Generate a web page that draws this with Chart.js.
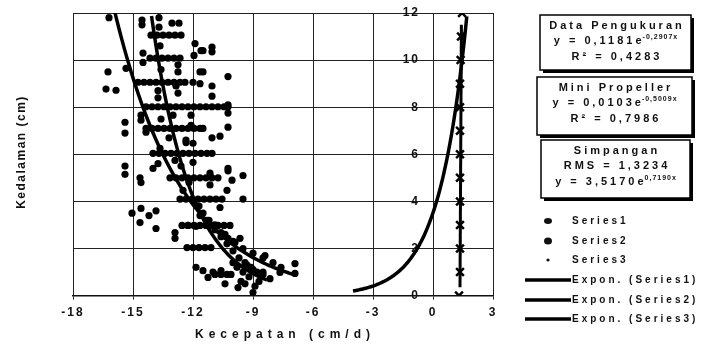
<!DOCTYPE html>
<html><head><meta charset="utf-8">
<script src="https://cdn.jsdelivr.net/npm/chart.js@4/dist/chart.umd.min.js"></script>
<style>html,body{margin:0;padding:0;background:#fff;overflow:hidden}</style>
</head><body>
<canvas id="c" width="711" height="347" style="width:711px;height:347px;display:block"></canvas>
<script>
// ---------- data ----------
const xTickStep = 3, xMin = -18, xMax = 3;
const yTickStep = 2, yMin = 0, yMax = 12;
const yAxisAt = -0.65; // tick labels sit just left of the x = 0 line
const xTitle = 'Kecepatan (cm/d)';
const yTitle = 'Kedalaman (cm)';
const seriesNames = ['Series1', 'Series2', 'Series3'];
const trendNames = ['Expon. (Series1)', 'Expon. (Series2)', 'Expon. (Series3)'];

// Series1 : scattered measured points [velocity, depth]
const series1 = [
 [-16.2,11.8],[-14.55,11.7],[-14.55,11.5],[-13.05,11.57],[-12.7,11.57],[-11.9,10.7],[-11.6,10.4],
 [-14.5,10.3],[-14.5,9.9],[-12.75,9.8],[-12.75,9.5],[-16.25,9.5],[-15.35,9.65],[-16.35,8.77],
 [-15.85,8.72],[-13.75,8.7],[-13.75,8.4],[-12.85,8.9],[-12.75,8.6],[-12.0,9.06],[-11.65,9.0],
 [-11.65,9.5],[-11.5,10.4],[-11.05,10.55],[-11.05,10.35],[-11.95,10.2],[-11.5,9.5],[-10.25,9.3],
 [-11.05,8.9],[-11.05,8.47],[-10.25,8.1],[-14.6,7.66],[-14.6,7.45],[-15.4,7.36],[-15.4,6.9],
 [-14.35,6.94],[-13.6,7.5],[-13.0,7.66],[-12.1,7.66],[-12.1,7.23],[-12.35,6.6],[-13.65,6.25],
 [-15.4,5.5],[-15.4,5.15],[-14.65,5.0],[-14.6,4.8],[-14.0,5.4],[-13.75,5.6],[-12.9,5.74],
 [-12.0,5.66],[-12.5,4.47],[-10.25,7.75],[-10.25,7.15],[-11.05,6.7],[-10.65,6.77],[-12.35,6.5],
 [-12.0,6.47],[-10.25,5.4],[-10.25,5.3],[-11.15,5.2],[-9.5,5.1],[-10.05,4.9],[-11.15,4.7],
 [-10.3,4.47],[-9.5,4.1],[-10.65,3.74],[-14.6,3.7],[-15.05,3.5],[-14.2,3.4],[-13.85,3.6],
 [-14.65,3.1],[-13.85,2.85],[-12.9,2.68],[-12.9,2.43],[-12.25,2.98],[-11.85,2.94],[-11.65,3.4],
 [-11.3,3.2],[-9.65,2.43],[-10.6,2.68],[-10.25,2.43],[-9.9,2.26],[-8.4,1.7],[-6.9,1.36],
 [-6.9,0.94],[-7.65,0.98],[-8.15,0.72],[-11.85,1.2],[-11.5,1.06],[-11.25,0.77],[-10.4,0.5],
 [-9.0,0.13],[-9.75,0.34],[-11.0,1.0],[-10.6,1.06],[-13.7,11.8],[-13.7,11.4],[-13.65,10.6],[-13.6,9.6]
];

// Series2 : mini propeller points (dense rows at fixed depths)
const series2 = [
 [-14.1,11.06],[-13.8,11.06],[-13.5,11.06],[-13.2,11.06],[-12.9,11.06],[-12.6,11.06],
 [-14.15,10.08],[-13.85,10.08],[-13.55,10.08],[-13.25,10.08],[-12.95,10.08],[-12.65,10.08],
 [-14.75,9.06],[-14.45,9.06],[-14.15,9.06],[-13.85,9.06],[-13.55,9.06],[-13.25,9.06],[-12.95,9.06],[-12.65,9.06],[-12.4,9.06],
 [-14.35,8.02],[-14.05,8.02],[-13.75,8.02],[-13.45,8.02],[-13.15,8.02],[-12.85,8.02],[-12.55,8.02],[-12.25,8.02],
 [-11.95,8.02],[-11.65,8.02],[-11.35,8.02],[-11.05,8.02],[-10.75,8.02],[-10.45,8.02],[-10.25,8.02],
 [-14.35,7.1],[-14.05,7.1],[-13.75,7.1],[-13.45,7.1],[-13.15,7.1],[-12.85,7.1],[-12.55,7.1],[-12.25,7.1],[-11.95,7.1],[-11.65,7.1],[-11.5,7.1],
 [-14.0,6.04],[-13.7,6.04],[-13.4,6.04],[-13.1,6.04],[-12.8,6.04],[-12.5,6.04],[-12.2,6.04],[-11.9,6.04],[-11.6,6.04],[-11.3,6.04],[-11.05,6.04],
 [-13.15,5.0],[-12.85,5.0],[-12.55,5.0],[-12.25,5.0],[-11.95,5.0],[-11.65,5.0],[-11.35,5.0],[-11.05,5.0],[-10.75,5.0],
 [-12.65,4.1],[-12.35,4.1],[-12.05,4.1],[-11.75,4.1],[-11.45,4.1],[-11.15,4.1],[-10.85,4.1],[-10.55,4.1],
 [-12.55,2.98],[-12.25,2.98],[-11.95,2.98],[-11.65,2.98],[-11.35,2.98],[-11.05,2.98],[-10.75,2.98],[-10.45,2.98],[-10.15,2.98],
 [-12.3,2.04],[-12.0,2.04],[-11.7,2.04],[-11.4,2.04],[-11.1,2.04],
 [-10.9,0.9],[-10.6,0.9],[-10.3,0.9],
 [-11.5,3.5],[-11.2,3.2],[-10.9,2.8],[-10.6,2.5],[-10.3,2.2],[-10.0,1.9],[-9.7,1.6],[-9.4,1.4],[-9.1,1.2],[-8.8,1.0],[-8.5,0.9],
 [-10.9,3.0],[-10.4,2.6],[-10.0,2.3],[-9.5,2.0],[-9.0,1.8],[-8.5,1.6],[-8.0,1.4],[-7.6,1.2],
 [-9.8,1.2],[-9.5,1.0],[-9.2,0.8],[-9.0,1.1],[-8.7,0.6],[-9.6,0.6],[-10.1,0.9],[-8.9,0.4],[-9.4,0.5],[-8.5,1.0],[-10.0,1.4],[-9.3,1.3],
 [-13.2,6.7],[-12.6,5.5],[-12.2,4.8],[-11.7,3.8]
];

// Series3 : deviation points
const series3X = [1.3,1.35,1.35,1.35,1.35,1.35,1.35,1.35,1.35,1.35,1.38,1.4,1.45];
const series3Y = [0,1,2,3,4,5,6,7,8,9,10,11,12];
const series3Line = [[1.35,0.35],[1.42,11.5]];

// exponential trend lines  y = a * e^(b x)
const trendA = [0.1181, 0.0103, 3.5170];
const trendB = [-0.2907, -0.5009, 0.7190];
const trendFrom = [-16.4, -14.3, -4.0];
const trendTo = [-6.8, -8.3, 1.69];

const boxTitles = ['Data Pengukuran', 'Mini Propeller', 'Simpangan'];
const boxLines = [
  [['y = 0,1181e', '-0,2907x'], ['R\u00B2 = 0,4283', '']],
  [['y = 0,0103e', '-0,5009x'], ['R\u00B2 = 0,7986', '']],
  [['RMS = 1,3234', ''], ['y = 3,5170e', '0,7190x']]
];

// ---------- build ----------
function trend(i){
  const pts = [];
  const n = 80;
  for (let k = 0; k <= n; k++){
    const x = trendFrom[i] + (trendTo[i] - trendFrom[i]) * k / n;
    const y = trendA[i] * Math.exp(trendB[i] * x);
    if (y <= 12.3) pts.push({x, y});
  }
  return pts;
}
const toXY = arr => arr.map(p => ({x: p[0], y: p[1]}));
const FONT = '"Liberation Sans", Arial, sans-serif';
const INK = '#111';

const deco = {
  id: 'deco',
  beforeUpdate(chart){ chart.ctx.letterSpacing = '2px'; },
  beforeDraw(chart){
    const c = chart.ctx;
    c.save(); c.fillStyle = '#fff'; c.fillRect(0,0,chart.width,chart.height); c.restore();
    c.letterSpacing = '2px';
  },
  afterDraw(chart){
    const c = chart.ctx;
    const ca = chart.chartArea;
    c.save();
    c.fillStyle = INK;
    c.textBaseline = 'middle';
    // x title
    c.font = 'bold 12px ' + FONT;
    c.letterSpacing = '5px';
    c.textAlign = 'center';
    c.fillText(xTitle, (ca.left + ca.right) / 2 + 2, 335);
    // y title
    c.save();
    c.translate(22, 152);
    c.rotate(-Math.PI / 2);
    c.font = 'bold 12px ' + FONT;
    c.letterSpacing = '1.5px';
    c.fillText(yTitle, 0, 0);
    c.restore();

    // boxes
    const boxGeo = [[540,15,151,55],[537,77,155,58],[541,140,149,58]];
    for (let b = 0; b < 3; b++){
      const [bx,by,bw,bh] = boxGeo[b];
      c.fillStyle = '#000';
      c.fillRect(bx + 3, by + 3, bw, bh);
      c.fillStyle = '#fff';
      c.fillRect(bx, by, bw, bh);
      c.strokeStyle = '#000'; c.lineWidth = 1.5;
      c.strokeRect(bx, by, bw, bh);
      c.fillStyle = INK;
      const cx = bx + bw / 2;
      const rows = [[boxTitles[b], '']].concat(boxLines[b]);
      rows.forEach((r, i) => {
        const yy = by + 10.5 + i * 15.5;
        c.font = 'bold 11px ' + FONT; c.letterSpacing = '3px';
        const w1 = c.measureText(r[0]).width;
        c.font = 'bold 7px ' + FONT; c.letterSpacing = '1px';
        const w2 = r[1] ? c.measureText(r[1]).width : 0;
        const x0 = cx - (w1 + w2) / 2 + 1.5;
        c.textAlign = 'left';
        c.font = 'bold 11px ' + FONT; c.letterSpacing = '3px';
        c.fillText(r[0], x0, yy);
        if (r[1]){
          c.font = 'bold 7px ' + FONT; c.letterSpacing = '1px';
          c.fillText(r[1], x0 + w1 - 2, yy - 3.5);
        }
      });
    }

    // legend
    c.fillStyle = INK;
    const ly = [221, 241, 260];
    const mr = [[4,3],[4,3.5],[1.6,1.6]];
    for (let i = 0; i < 3; i++){
      c.beginPath();
      c.ellipse(548, ly[i], mr[i][0], mr[i][1], 0, 0, Math.PI * 2);
      c.fill();
      c.font = 'bold 10px ' + FONT; c.letterSpacing = '3px'; c.textAlign = 'left';
      c.fillText(seriesNames[i], 572, ly[i]);
    }
    const ty = [280, 300, 319];
    for (let i = 0; i < 3; i++){
      c.strokeStyle = '#000'; c.lineWidth = 3.5;
      c.beginPath(); c.moveTo(525, ty[i]); c.lineTo(571, ty[i]); c.stroke();
      c.font = 'bold 10px ' + FONT; c.letterSpacing = '3px'; c.textAlign = 'left';
      c.fillText(trendNames[i], 572, ty[i]);
    }
    c.restore();
    c.letterSpacing = '2px';
  }
};

const lineDs = (data, w) => ({data, showLine: true, borderColor: '#000', borderWidth: w, pointRadius: 0, fill: false, tension: 0});

new Chart(document.getElementById('c'), {
  type: 'scatter',
  data: {
    datasets: [
      {label: seriesNames[0], data: toXY(series1), backgroundColor: '#000', borderColor: '#000', pointRadius: 3.6, pointBorderWidth: 0},
      {label: seriesNames[1], data: toXY(series2), backgroundColor: '#000', borderColor: '#000', pointRadius: 3.6, pointBorderWidth: 0},
      {label: seriesNames[2], data: series3X.map((x, i) => ({x, y: series3Y[i]})), pointStyle: 'crossRot', pointRadius: 5.5, pointBorderWidth: 2.5, borderColor: '#000', backgroundColor: '#000'},
      Object.assign({label: 'vline'}, lineDs(toXY(series3Line), 3)),
      Object.assign({label: trendNames[0]}, lineDs(trend(0), 3.5)),
      Object.assign({label: trendNames[1]}, lineDs(trend(1), 3.5)),
      Object.assign({label: trendNames[2]}, lineDs(trend(2), 3.5))
    ]
  },
  options: {
    responsive: false,
    animation: false,
    devicePixelRatio: 1,
    layout: {padding: {left: 73, right: 218, top: 13, bottom: 21}},
    plugins: {legend: {display: false}, tooltip: {enabled: false}},
    scales: {
      x: {
        type: 'linear', min: xMin, max: xMax,
        ticks: {stepSize: xTickStep, color: INK, padding: 6, font: {family: FONT, size: 12, weight: 'bold'}},
        grid: {color: '#222', lineWidth: 1, tickLength: 4, drawTicks: true, tickColor: '#222'},
        border: {display: true, color: '#111', width: 1.5}
      },
      y: {
        type: 'linear', min: yMin, max: yMax, position: {x: yAxisAt},
        ticks: {stepSize: yTickStep, color: INK, padding: 0, font: {family: FONT, size: 12, weight: 'bold'}},
        grid: {color: '#222', lineWidth: 1, drawTicks: false},
        border: {display: false}
      }
    }
  },
  plugins: [deco]
});
</script>
</body></html>
